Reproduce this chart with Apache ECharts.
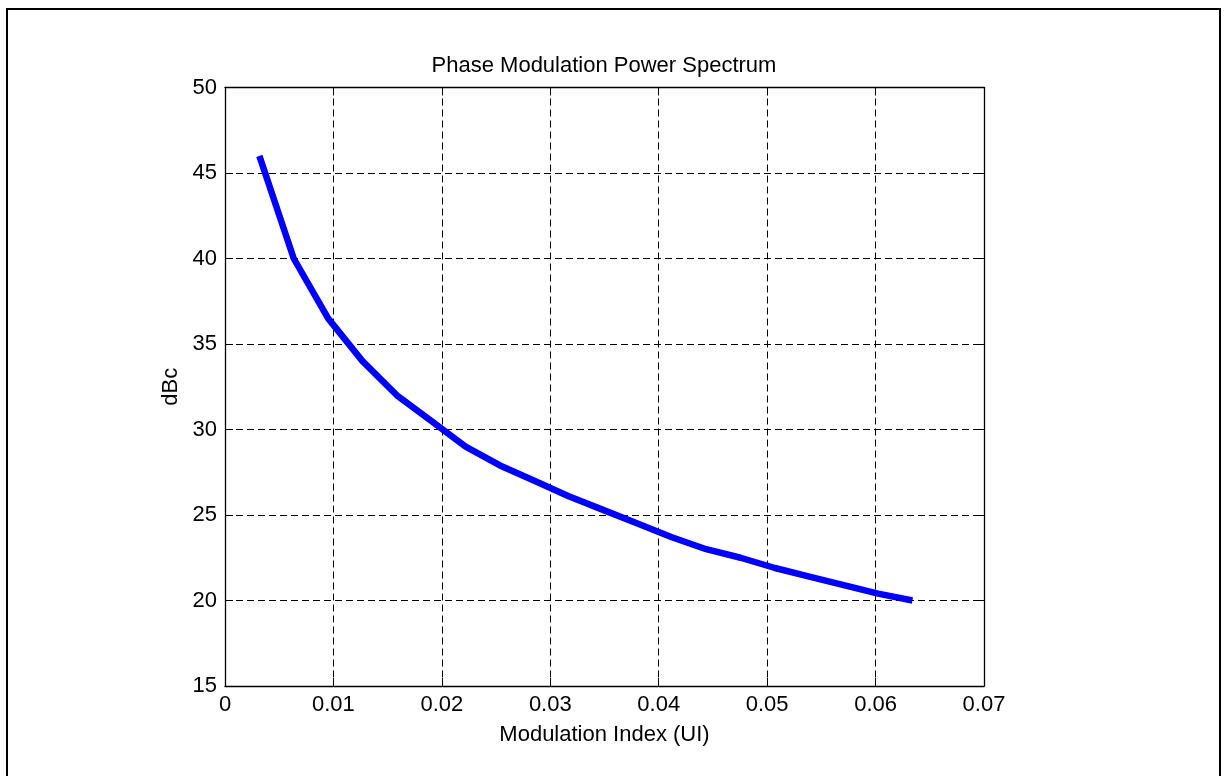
<!DOCTYPE html>
<html>
<head>
<meta charset="utf-8">
<title>Phase Modulation Power Spectrum</title>
<script src="https://cdn.jsdelivr.net/npm/echarts@6/dist/echarts.min.js"></script>
<style>
  html, body { margin: 0; padding: 0; background: #fff; }
  #chart { width: 1226px; height: 776px; }
</style>
</head>
<body>
<div id="chart"></div>
<script>
// Modulation index (UI) and the resulting sideband level (dBc)
const modIndex = [0.00317, 0.00634, 0.00951, 0.01268, 0.01585, 0.01902, 0.02219, 0.02536,
                  0.02853, 0.0317, 0.03487, 0.03804, 0.04121, 0.04438, 0.04755, 0.05072,
                  0.05389, 0.05706, 0.06023, 0.0634];
const dbc = [46.0, 40.0, 36.5, 34.0, 32.0, 30.5, 29.0, 27.9, 27.0, 26.1,
             25.3, 24.5, 23.7, 23.0, 22.5, 21.9, 21.4, 20.9, 20.4, 20.0];

const xTicks = { min: 0, max: 0.07, step: 0.01 };
const yTicks = { min: 15, max: 50, step: 5 };

const FONT = 'Arial, "Liberation Sans", Helvetica, sans-serif';
const gridLine = { show: true, lineStyle: { color: '#000', width: 1, type: [7, 4] } };

function axisBase(extra) {
  return Object.assign({
    type: 'value',
    axisLine: { show: true, onZero: false, lineStyle: { color: '#000', width: 1.3 } },
    axisTick: { show: true, inside: true, length: 8, lineStyle: { color: '#000' } },
    splitLine: { show: false }
  }, extra);
}

const chart = echarts.init(document.getElementById('chart'), null, { renderer: 'canvas' });

chart.setOption({
  backgroundColor: '#fff',
  animation: false,
  title: {
    text: 'Phase Modulation Power Spectrum',
    left: 604, top: 55, textAlign: 'center', padding: 0,
    textStyle: { fontFamily: FONT, fontSize: 22, fontWeight: 'normal', color: '#000' }
  },
  grid: { left: 225, top: 87.5, right: 242, bottom: 90, containLabel: false },
  xAxis: [
    axisBase({
      position: 'bottom',
      min: xTicks.min, max: xTicks.max, interval: xTicks.step,
      name: 'Modulation Index (UI)', nameLocation: 'middle', nameGap: 38,
      nameTextStyle: { fontFamily: FONT, fontSize: 22, color: '#000' },
      axisLabel: { fontFamily: FONT, fontSize: 22, color: '#000', margin: 8,
                   formatter: v => String(+v.toFixed(2)) },
      splitLine: gridLine
    }),
    axisBase({
      position: 'top',
      min: xTicks.min, max: xTicks.max, interval: xTicks.step,
      axisLabel: { show: false }
    })
  ],
  yAxis: [
    axisBase({
      position: 'left',
      min: yTicks.min, max: yTicks.max, interval: yTicks.step,
      name: 'dBc', nameLocation: 'middle', nameGap: 43,
      nameTextStyle: { fontFamily: FONT, fontSize: 22, color: '#000' },
      axisLabel: { fontFamily: FONT, fontSize: 22, color: '#000', margin: 8 },
      splitLine: gridLine
    }),
    axisBase({
      position: 'right',
      min: yTicks.min, max: yTicks.max, interval: yTicks.step,
      axisLabel: { show: false }
    })
  ],
  series: [{
    type: 'line',
    xAxisIndex: 0, yAxisIndex: 0,
    data: modIndex.map((x, i) => [x, dbc[i]]),
    symbol: 'none',
    lineStyle: { color: '#0000ff', width: 6.5, cap: 'butt', join: 'round' },
    z: 5
  }],
  graphic: [{
    type: 'rect',
    shape: { x: 7, y: 9, width: 1213, height: 800 },
    style: { fill: 'none', stroke: '#000', lineWidth: 2 },
    silent: true
  }]
});
</script>
</body>
</html>
